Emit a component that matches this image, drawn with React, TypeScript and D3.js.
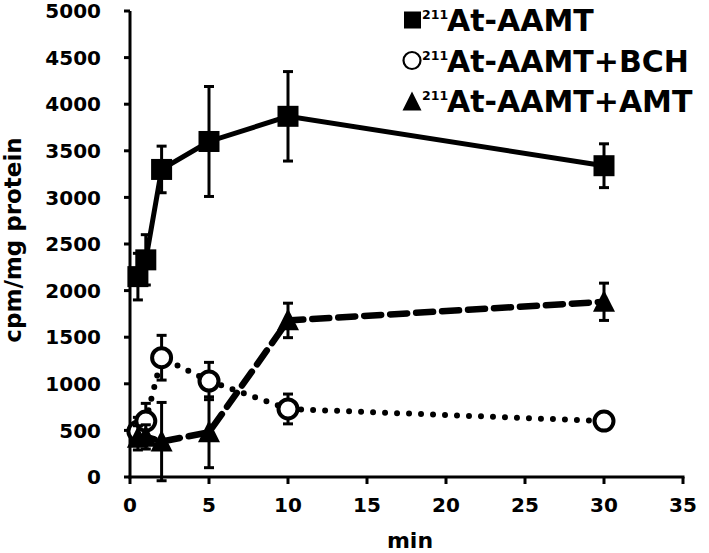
import React from "react";
import * as d3 from "d3";

const times = [0.5, 1, 2, 5, 10, 30];
const aamt = [2150, 2330, 3300, 3600, 3870, 3340];
const aamtErr = [250, 270, 250, 590, 480, 235];
const bch = [490, 600, 1280, 1030, 730, 600];
const bchErr = [150, 190, 240, 200, 160, 40];
const amt = [420, 430, 380, 480, 1680, 1880];
const amtErr = [130, 130, 420, 380, 185, 200];

const xTicks = [0, 5, 10, 15, 20, 25, 30, 35];
const yTicks = [0, 500, 1000, 1500, 2000, 2500, 3000, 3500, 4000, 4500, 5000];
const legendLabels = ["At-AAMT", "At-AAMT+BCH", "At-AAMT+AMT"];
const legendSup = "211";

const W = 709;
const H = 553;
const FONT = "'DejaVu Sans', Verdana, sans-serif";

export default function App() {
  const x = d3.scaleLinear().domain([0, 35]).range([130, 683]);
  const y = d3.scaleLinear().domain([0, 5000]).range([477, 11]);

  const mk = (vals: number[]) => times.map((t, i) => [t, vals[i]] as [number, number]);
  const line = d3.line<[number, number]>().x((d) => x(d[0])).y((d) => y(d[1]));

  const series = [
    { key: "bch", vals: bch, err: bchErr, dash: "0 12", width: 6, cap: "round" as const, marker: "circle" },
    { key: "amt", vals: amt, err: amtErr, dash: "17 9", width: 6.5, cap: "round" as const, marker: "triangle" },
    { key: "aamt", vals: aamt, err: aamtErr, dash: "none", width: 5, cap: "butt" as const, marker: "square" },
  ];

  const triPath = (cx: number, cy: number, s: number) => {
    const h = s * 0.9;
    return `M${cx},${cy - h / 2 - 2}L${cx + s / 2},${cy + h / 2}L${cx - s / 2},${cy + h / 2}Z`;
  };

  const drawMarker = (type: string, cx: number, cy: number, size: number, key: string) => {
    if (type === "square")
      return <rect key={key} x={cx - size / 2} y={cy - size / 2} width={size} height={size} fill="#000" />;
    if (type === "circle")
      return <circle key={key} cx={cx} cy={cy} r={size / 2 - 2} fill="#fff" stroke="#000" strokeWidth={4} />;
    return <path key={key} d={triPath(cx, cy, size)} fill="#000" />;
  };

  return (
    <svg width={W} height={H} style={{ display: "block", position: "absolute", left: 0, top: 0 }} fontFamily={FONT}>
      <rect width={W} height={H} fill="#fff" />
      {/* axes */}
      <line x1={x(0)} x2={x(0)} y1={y(5000)} y2={y(0) + 1.5} stroke="#000" strokeWidth={3} />
      <line x1={x(0) - 1.5} x2={x(35) + 1.5} y1={y(0)} y2={y(0)} stroke="#000" strokeWidth={3} />
      {yTicks.map((t) => (
        <g key={"yt" + t}>
          <line x1={x(0) - 6} x2={x(0)} y1={y(t)} y2={y(t)} stroke="#000" strokeWidth={3} />
          <text x={101} y={y(t)} dy="0.36em" textAnchor="end" fontSize={20} fontWeight="bold">
            {t}
          </text>
        </g>
      ))}
      {xTicks.map((t) => (
        <g key={"xt" + t}>
          <line x1={x(t)} x2={x(t)} y1={y(0)} y2={y(0) + 7} stroke="#000" strokeWidth={3} />
          <text x={x(t)} y={512} textAnchor="middle" fontSize={20} fontWeight="bold">
            {t}
          </text>
        </g>
      ))}
      <text x={410} y={548} textAnchor="middle" fontSize={22} fontWeight="bold">
        min
      </text>
      <text
        transform={`translate(21,${(127 + 353) / 2}) rotate(-90)`}
        textAnchor="middle"
        fontSize={23}
        fontWeight="bold"
      >
        cpm/mg protein
      </text>

      {/* lines */}
      {series.map((s) => (
        <path
          key={"l" + s.key}
          d={line(mk(s.vals)) || ""}
          fill="none"
          stroke="#000"
          strokeWidth={s.width}
          strokeDasharray={s.dash}
          strokeLinecap={s.cap}
        />
      ))}
      {/* error bars + markers */}
      {series.map((s) => (
        <g key={"g" + s.key}>
          {times.map((t, i) => {
            const cx = x(t);
            const y0 = y(s.vals[i] - s.err[i]);
            const y1 = y(s.vals[i] + s.err[i]);
            return (
              <g key={"e" + i}>
                <line x1={cx} x2={cx} y1={y0} y2={y1} stroke="#000" strokeWidth={3} />
                <line x1={cx - 5} x2={cx + 5} y1={y0} y2={y0} stroke="#000" strokeWidth={3} />
                <line x1={cx - 5} x2={cx + 5} y1={y1} y2={y1} stroke="#000" strokeWidth={3} />
              </g>
            );
          })}
          {times.map((t, i) =>
            drawMarker(s.marker, x(t), y(s.vals[i]), s.marker === "square" ? 21 : s.marker === "circle" ? 23 : 22, "m" + i)
          )}
        </g>
      ))}

      {/* legend */}
      {legendLabels.map((lab, i) => {
        const base = 31 + i * 40.5;
        const cy = base - 11;
        const type = ["square", "circle", "triangle"][i];
        return (
          <g key={"lg" + i}>
            {type === "square" && <rect x={404} y={cy - 8.5} width={17} height={17} fill="#000" />}
            {type === "circle" && <circle cx={412} cy={cy} r={8.5} fill="#fff" stroke="#000" strokeWidth={2.2} />}
            {type === "triangle" && <path d={triPath(412, cy + 1, 19)} fill="#000" />}
            <text x={422} y={base - 12} fontSize={12.5} fontWeight="bold">
              {legendSup}
            </text>
            <text x={447} y={base} fontSize={30} fontWeight="bold">
              {lab}
            </text>
          </g>
        );
      })}
    </svg>
  );
}
